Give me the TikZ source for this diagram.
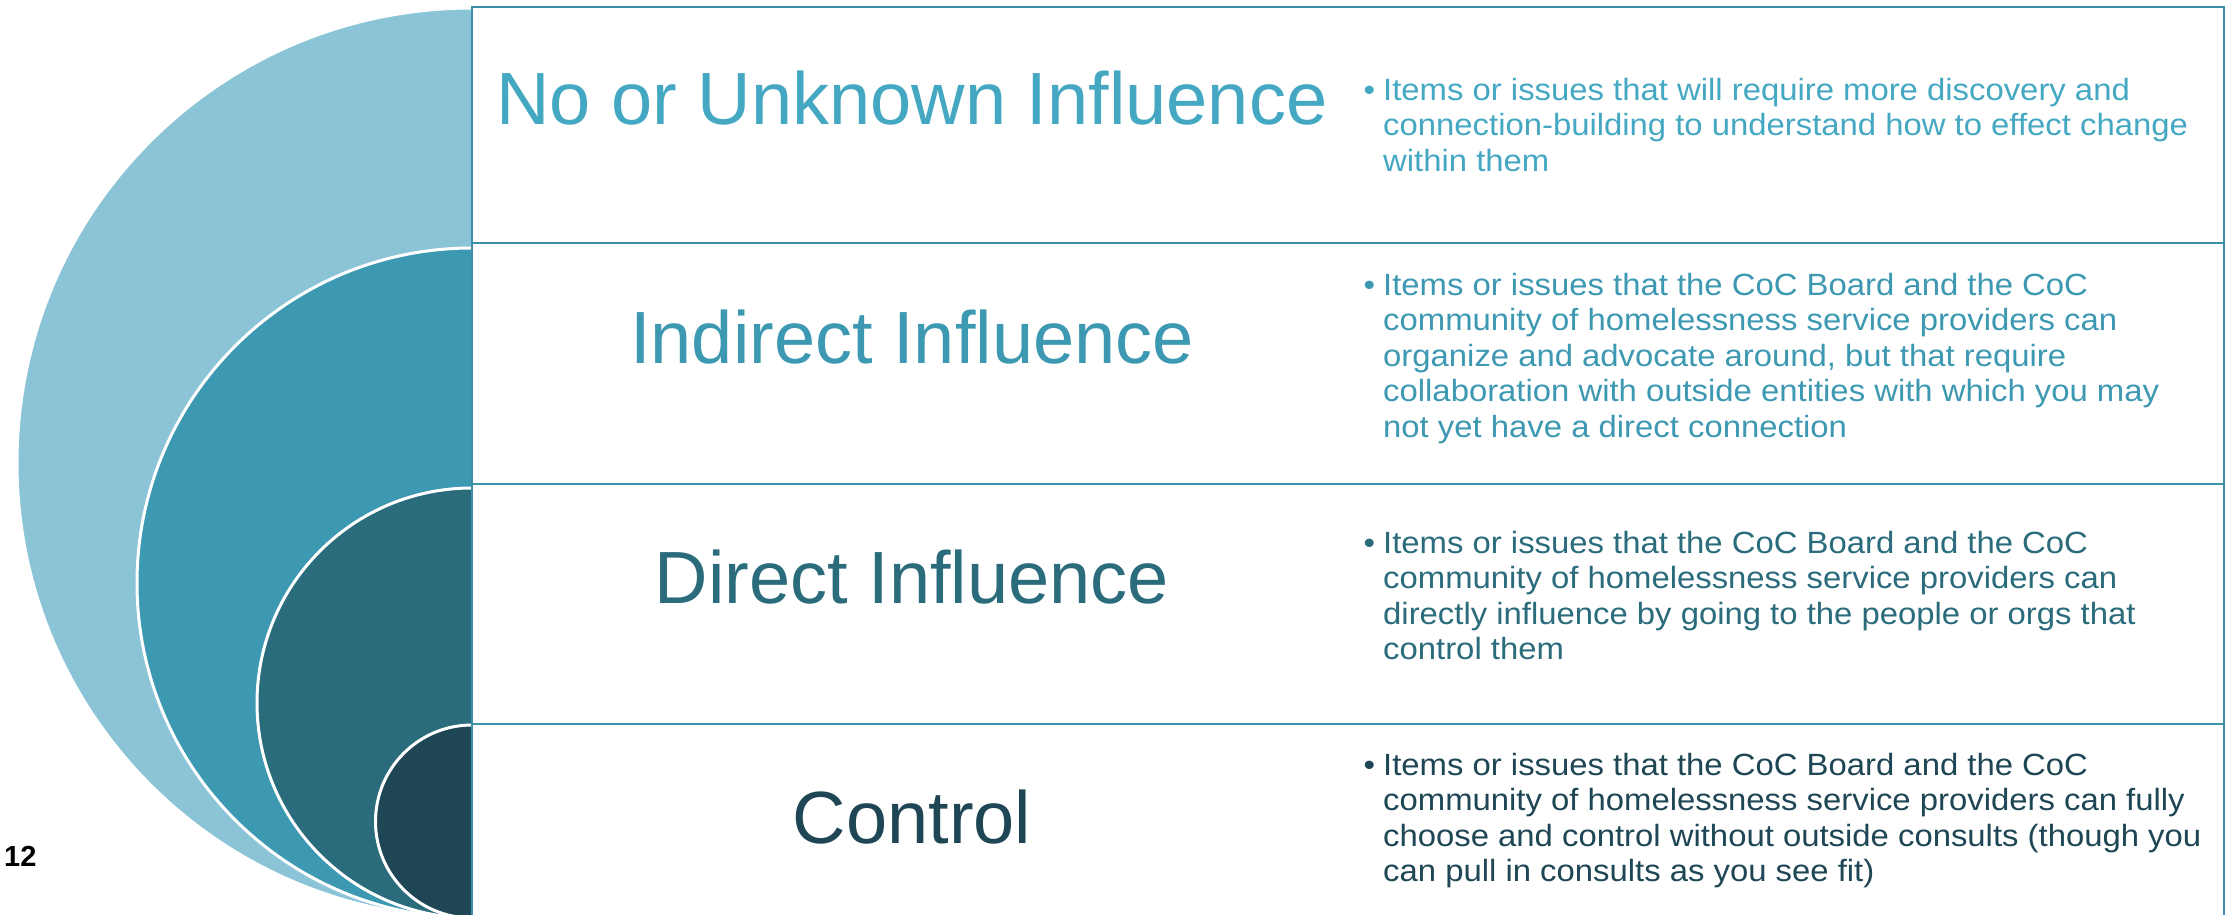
\documentclass[tikz,border=0pt]{standalone}
\usepackage{fontspec}
\setmainfont{Liberation Sans}
\newfontfamily\bodyfont[FakeStretch=1.07]{Liberation Sans}
\usetikzlibrary{positioning}
\definecolor{ringA}{HTML}{8CC4D7}
\definecolor{ringB}{HTML}{3D98B2}
\definecolor{ringC}{HTML}{2A6B7C}
\definecolor{ringD}{HTML}{1E4654}
\definecolor{textA}{HTML}{45A8C3}
\definecolor{gridline}{HTML}{3C8FA8}
\tikzstyle{ring} = [draw=white, line width=3pt]
\tikzstyle{rowbox} = [rectangle, minimum width=1752pt, draw=gridline, line width=2.5pt, fill=white, outer sep=0pt, inner sep=0pt]
\tikzstyle{heading} = [font=\fontsize{74}{80}\selectfont, anchor=base, inner sep=0pt]
\tikzstyle{bullets} = [font=\bodyfont\fontsize{30.7}{35.5}\selectfont, align=left, anchor=north west, inner sep=0pt]
\newcommand{\itembul}{\makebox[0pt][r]{\textbullet\hspace{8pt}}}

\begin{document}
\begin{tikzpicture}[x=1pt, y=1pt]
	\useasboundingbox (0,0) rectangle (2231,914);
	% nested rings, all touching at the bottom
	\filldraw [ring, fill=ringA] (472,451) circle [radius=455pt];
	\filldraw [ring, fill=ringB] (472,331) circle [radius=335pt];
	\filldraw [ring, fill=ringC] (472,211) circle [radius=215pt];
	\filldraw [ring, fill=ringD] (472,92.5) circle [radius=96.5pt];
	% table rows
	\node (row1) [rowbox, minimum height=236pt] at (1348,789) {};
	\node (row2) [rowbox, minimum height=241pt, below=0pt of row1] {};
	\node (row3) [rowbox, minimum height=240pt, below=0pt of row2] {};
	\node (row4) [rowbox, minimum height=238pt, below=0pt of row3] {};
	% headings
	\node (head1) [heading, text=textA] at ([xshift=440pt]row1.west) {No or Unknown Influence};
	\node (head2) [heading, text=ringB] at ([xshift=440pt]row2.west) {Indirect Influence};
	\node (head3) [heading, text=ringC] at ([xshift=440pt]row3.west) {Direct Influence};
	\node (head4) [heading, text=ringD] at ([xshift=440pt]row4.west) {Control};
	% descriptions
	\node (note1) [bullets, text=textA] at ([xshift=911pt, yshift=-71pt]row1.north west) {\itembul Items or issues that will require more discovery and\\ connection-building to understand how to effect change\\ within them};
	\node (note2) [bullets, text=ringB] at ([xshift=911pt, yshift=-30pt]row2.north west) {\itembul Items or issues that the CoC Board and the CoC\\ community of homelessness service providers can\\ organize and advocate around, but that require\\ collaboration with outside entities with which you may\\ not yet have a direct connection};
	\node (note3) [bullets, text=ringC] at ([xshift=911pt, yshift=-47pt]row3.north west) {\itembul Items or issues that the CoC Board and the CoC\\ community of homelessness service providers can\\ directly influence by going to the people or orgs that\\ control them};
	\node (note4) [bullets, text=ringD] at ([xshift=911pt, yshift=-29pt]row4.north west) {\itembul Items or issues that the CoC Board and the CoC\\ community of homelessness service providers can fully\\ choose and control without outside consults (though you\\ can pull in consults as you see fit)};
	\node (pagenum) [font=\bfseries\fontsize{29}{30}\selectfont, anchor=base west, inner sep=0pt] at (4,48) {12};
\end{tikzpicture}
\end{document}
